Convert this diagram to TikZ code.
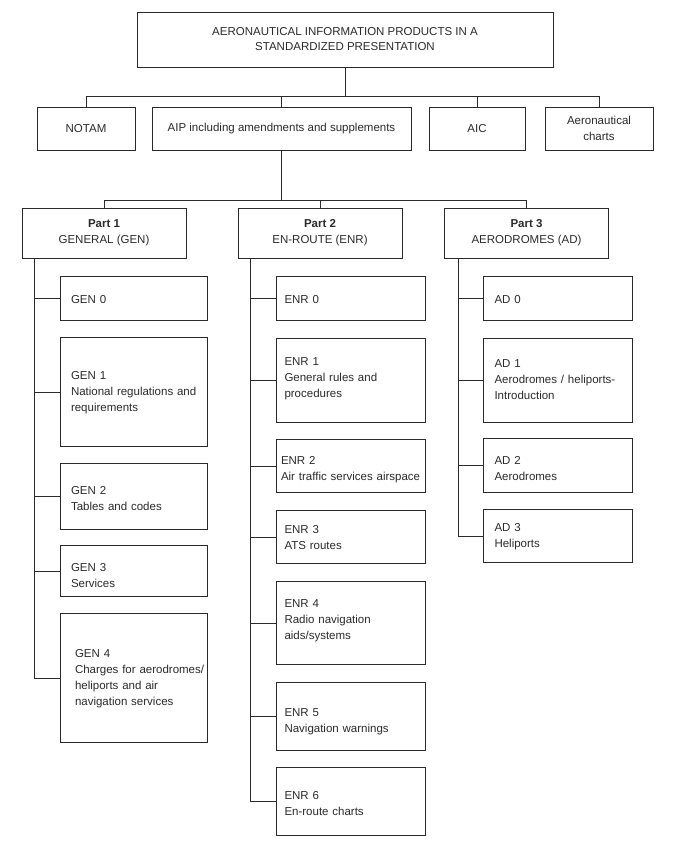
\documentclass[tikz,border=0pt]{standalone}
\usepackage{fontspec}
\setmainfont{Liberation Sans}
\definecolor{ink}{HTML}{2A2A2A}
\newcommand\leaftext[3][0pt]{\raisebox{#1}[\height][\depth]{\begin{tabular}{@{\hspace{#2}}l@{}}#3\end{tabular}}}
\begin{document}
\begin{tikzpicture}[x=1pt,y=1pt,
  every node/.style={text=ink, font=\fontsize{11.5}{16}\selectfont},
  conn/.style={draw=ink, line width=1pt},
  cbox/.style={draw=ink, line width=1pt, align=center, inner sep=0pt},
  partbox/.style={cbox, minimum width=164pt, minimum height=50pt},
  leaf/.style={draw=ink, line width=1pt, inner xsep=0pt, inner ysep=0pt, align=left, anchor=north west}
]
\useasboundingbox (0,0) rectangle (676,-844);
% top
\node[cbox, minimum width=416pt, minimum height=55pt, font=\fontsize{11.5}{15}\selectfont] (top) at (345,-39.5)
  {AERONAUTICAL INFORMATION PRODUCTS IN A\\STANDARDIZED PRESENTATION};
% second row
\node[cbox, minimum width=98pt, minimum height=43pt] (notam) at (86,-128.5) {NOTAM};
\node[cbox, minimum width=259pt, minimum height=43pt] (aip) at (281.5,-128.5) {AIP including amendments and supplements};
\node[cbox, minimum width=96pt, minimum height=43pt] (aic) at (477,-128.5) {AIC};
\node[cbox, minimum width=108pt, minimum height=43pt, font=\fontsize{11.5}{16.5}\selectfont] (charts) at (599,-128.5) {Aeronautical\\charts};
\coordinate (b1) at (345,-96.7);
\draw[conn] (top.south) -- (top.south |- b1);
\draw[conn] (notam.north) |- (charts.north |- b1) -- (charts.north);
\draw[conn] (aip.north) -- (aip.north |- b1);
\draw[conn] (aic.north) -- (aic.north |- b1);
% parts
\node[partbox] (p1) at (104,-233) {\textbf{Part 1}\\GENERAL (GEN)};
\node[partbox] (p2) at (320,-233) {\textbf{Part 2}\\EN-ROUTE (ENR)};
\node[partbox] (p3) at (526.5,-233) {\textbf{Part 3}\\AERODROMES (AD)};
\coordinate (b2) at (345,-200.7);
\draw[conn] (aip.south) -- (aip.south |- b2);
\draw[conn] (p1.north) |- (p3.north |- b2) -- (p3.north);
\draw[conn] (p2.north) -- (p2.north |- b2);
% GEN column
\node[leaf, text width=147.5pt, minimum height=44pt] (gen0) at (59.5,-276) {\leaftext[-2pt]{11pt}{GEN 0}};
\node[leaf, text width=147.5pt, minimum height=109pt] (gen1) at (59.5,-337) {\leaftext{11pt}{GEN 1\\National regulations and\\requirements}};
\node[leaf, text width=147.5pt, minimum height=66pt] (gen2) at (59.5,-463) {\leaftext[-2.5pt]{11pt}{GEN 2\\Tables and codes}};
\node[leaf, text width=147.5pt, minimum height=51pt] (gen3) at (59.5,-545) {\leaftext[-5.5pt]{11pt}{GEN 3\\Services}};
\node[leaf, text width=147.5pt, minimum height=129pt] (gen4) at (59.5,-613) {\leaftext{15pt}{GEN 4\\Charges for aerodromes/\\heliports and air\\navigation services}};
% ENR column
\node[leaf, text width=148.6pt, minimum height=44pt] (enr0) at (276,-276) {\leaftext[-2pt]{8pt}{ENR 0}};
\node[leaf, text width=148.6pt, minimum height=84pt] (enr1) at (276,-338) {\leaftext[2pt]{8pt}{ENR 1\\General rules and\\procedures}};
\node[leaf, text width=148.6pt, minimum height=53pt] (enr2) at (276,-439) {\leaftext[-3.5pt]{4.5pt}{ENR 2\\Air traffic services airspace}};
\node[leaf, text width=148.6pt, minimum height=53pt] (enr3) at (276,-510) {\leaftext[-1pt]{8pt}{ENR 3\\ATS routes}};
\node[leaf, text width=148.6pt, minimum height=83pt] (enr4) at (276,-581) {\leaftext[2.5pt]{8pt}{ENR 4\\Radio navigation\\aids/systems}};
\node[leaf, text width=148.6pt, minimum height=68pt] (enr5) at (276,-682) {\leaftext[-4.5pt]{8pt}{ENR 5\\Navigation warnings}};
\node[leaf, text width=148.6pt, minimum height=68pt] (enr6) at (276,-767) {\leaftext[-2.5pt]{8pt}{ENR 6\\En-route charts}};
% AD column
\node[leaf, text width=148.5pt, minimum height=44pt] (ad0) at (483,-276) {\leaftext[-2pt]{11pt}{AD 0}};
\node[leaf, text width=148.5pt, minimum height=84pt] (ad1) at (483,-338) {\leaftext{11pt}{AD 1\\Aerodromes / heliports-\\Introduction}};
\node[leaf, text width=148.5pt, minimum height=54pt] (ad2) at (483,-438) {\leaftext[-3.5pt]{11pt}{AD 2\\Aerodromes}};
\node[leaf, text width=148.5pt, minimum height=53pt] (ad3) at (483,-509) {\leaftext{11pt}{AD 3\\Heliports}};
% spines
\coordinate (s1) at ([xshift=13pt]p1.south west);
\coordinate (s2) at ([xshift=13pt]p2.south west);
\coordinate (s3) at ([xshift=14pt]p3.south west);
\draw[conn] (s1) |- (gen4.west);
\foreach \n in {0,1,2,3} \draw[conn] (gen\n.west) -- (gen\n.west -| s1);
\draw[conn] (s2) |- (enr6.west);
\foreach \n in {0,1,2,3,4,5} \draw[conn] (enr\n.west) -- (enr\n.west -| s2);
\draw[conn] (s3) |- (ad3.west);
\foreach \n in {0,1,2} \draw[conn] (ad\n.west) -- (ad\n.west -| s3);
\end{tikzpicture}
\end{document}
